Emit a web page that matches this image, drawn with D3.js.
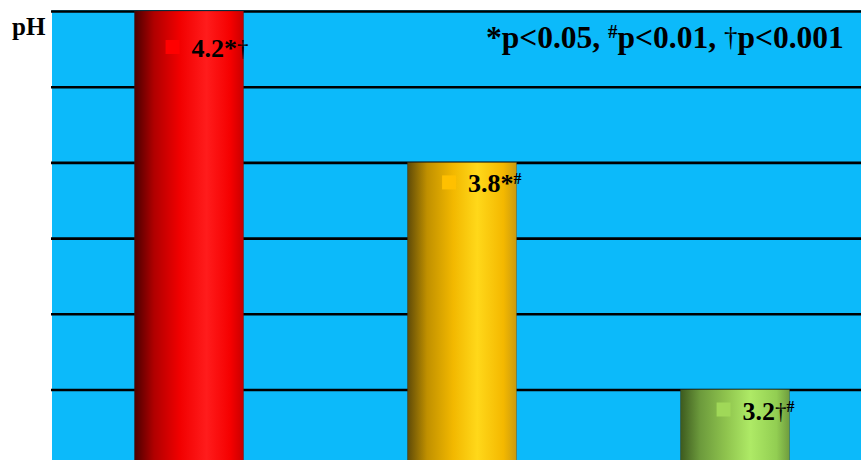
<!DOCTYPE html>
<html><head><meta charset="utf-8">
<script src="https://cdn.jsdelivr.net/npm/d3@7/dist/d3.min.js"></script>
<style>html,body{margin:0;padding:0;background:#fff;}svg{display:block;}</style>
</head><body>
<svg id="chart" width="861" height="460"></svg>
<script>
const categories = ["Group 1", "Group 2", "Group 3"];
const values = [4.2, 3.8, 3.2];
const valueLabels = ["4.2", "3.8", "3.2"];
const markers = [["*", "†"], ["*", "#"], ["†", "#"]];
const yTicks = [3.2, 3.4, 3.6, 3.8, 4.0, 4.2];
const yDomain = [3.0, 4.2];
const axisTitle = "pH";
const legendParts = [["*", "p<0.05, "], ["#", "p<0.01, "], ["†", "p<0.001"]];
const barStops = [
  [["0%","#4a0000"],["18%","#b00000"],["42%","#f20000"],["66%","#ff1c1c"],["88%","#f50000"],["100%","#c80000"]],
  [["0%","#5e4a08"],["18%","#c09000"],["42%","#f2b800"],["64%","#ffd81a"],["88%","#f4b800"],["100%","#c99a10"]],
  [["0%","#3d5a1e"],["18%","#6c9a3c"],["42%","#8fc44e"],["64%","#aeea66"],["88%","#92ce52"],["100%","#6f9c3e"]]
];
const markerColors = ["#ff0000", "#ffc000", "#a0d858"];

const svg = d3.select("#chart");
const W = 861, H = 460;
const plotLeft = 52, plotTop = 11;
const FONT = "Liberation Serif, Times New Roman, serif";

const x = d3.scaleBand().domain(categories).range([52.5, 871.5]).paddingInner(0.6).paddingOuter(0.3);
const y = d3.scaleLinear().domain(yDomain).range([465.2, 11]);

svg.append("rect").attr("x", plotLeft).attr("y", plotTop - 1).attr("width", W - plotLeft).attr("height", H - plotTop + 1).attr("fill", "#0cbafa");

const defs = svg.append("defs");
barStops.forEach((stops, i) => {
  const g = defs.append("linearGradient").attr("id", "g" + i).attr("x1", "0%").attr("x2", "100%").attr("y1", "0%").attr("y2", "0%");
  stops.forEach(s => g.append("stop").attr("offset", s[0]).attr("stop-color", s[1]));
});

const grid = svg.append("g").attr("transform", `translate(${plotLeft - 1},0)`)
  .call(d3.axisLeft(y).tickValues(yTicks).tickSize(-(W - plotLeft + 1)).tickFormat(""));
grid.select(".domain").remove();
grid.selectAll(".tick line").attr("stroke", "#000").attr("stroke-width", 2.6);

svg.append("g").selectAll("rect").data(values).join("rect")
  .attr("x", (d, i) => x(categories[i]))
  .attr("y", d => y(d))
  .attr("width", x.bandwidth())
  .attr("height", d => H - y(d) + 10)
  .attr("fill", (d, i) => `url(#g${i})`)
  .attr("stroke", "rgba(40,40,40,0.35)").attr("stroke-width", 0.8);

// append a marker symbol; baseline given absolutely so no reset tspans are needed
function addSymbol(txt, m, base, big) {
  if (m === "*") {
    txt.append("tspan").attr("y", base).text("*");
  } else if (m === "†") {
    txt.append("tspan").attr("y", base - (big ? 2 : 1)).attr("font-weight", "normal").attr("font-size", big ? 27 : 23).text("†");
  } else {
    txt.append("tspan").attr("y", base - (big ? 10 : 8)).attr("font-size", big ? 19 : 16).text("#");
  }
}

// value labels (right edge near the bar's right edge; kept below plot top)
const lab = svg.append("g").selectAll("g").data(values).join("g")
  .attr("transform", (d, i) => `translate(${x(categories[i]) + x.bandwidth() + 5},${Math.max(y(d), 27)})`);
lab.each(function(d, i) {
  const g = d3.select(this);
  const base = 30;
  const txt = g.append("text").attr("y", base)
    .attr("font-family", FONT).attr("font-weight", "bold").attr("font-size", 26).attr("fill", "#000");
  txt.append("tspan").attr("y", base).text(valueLabels[i]);
  markers[i].forEach(m => addSymbol(txt, m, base, false));
  const w = txt.node().getComputedTextLength();
  txt.attr("x", -w);
  g.append("rect").attr("x", -w - 26).attr("y", 13).attr("width", 14).attr("height", 14)
    .attr("fill", markerColors[i]);
});

svg.append("text").attr("x", 12).attr("y", 35)
  .attr("font-family", FONT).attr("font-weight", "bold").attr("font-size", 25).text(axisTitle);

const legBase = 48;
const leg = svg.append("text").attr("x", 486).attr("y", legBase)
  .attr("font-family", FONT).attr("font-weight", "bold").attr("font-size", 31.5).attr("fill", "#000");
legendParts.forEach(([sym, rest]) => {
  addSymbol(leg, sym, legBase, true);
  leg.append("tspan").attr("y", legBase).text(rest);
});
</script>
</body></html>
